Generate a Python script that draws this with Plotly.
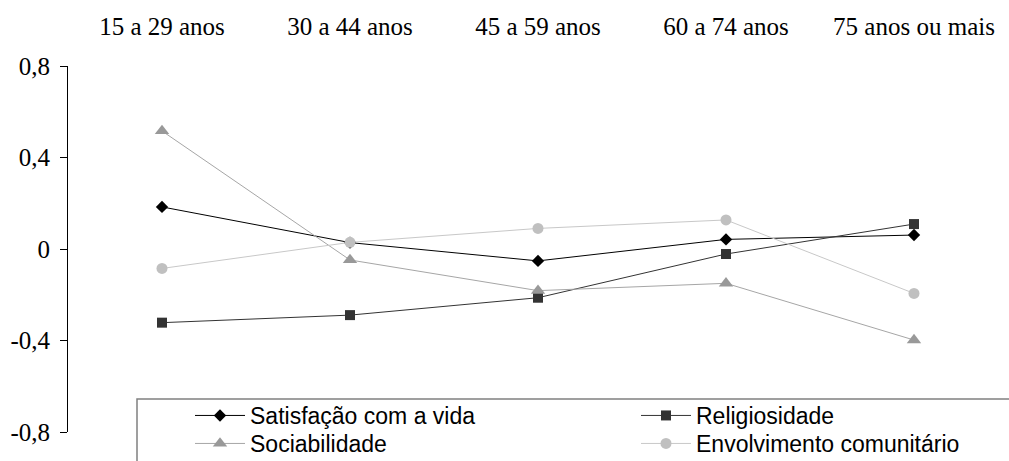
import plotly.graph_objects as go

categories = ["15 a 29 anos", "30 a 44 anos", "45 a 59 anos", "60 a 74 anos", "75 anos ou mais"]

satisfacao = [0.184, 0.028, -0.052, 0.042, 0.061]
religiosidade = [-0.322, -0.289, -0.213, -0.022, 0.109]
sociabilidade = [0.516, -0.048, -0.182, -0.150, -0.398]
envolvimento = [-0.085, 0.029, 0.090, 0.127, -0.194]

y_ticks = [-0.8, -0.4, 0, 0.4, 0.8]
y_ticktext = ["-0,8", "-0,4", "0", "0,4", "0,8"]
boundaries = [0.5, 1.5, 2.5, 3.5, 4.5]

serif = "Liberation Serif, Times New Roman, serif"
sans = "Liberation Sans, Arial, sans-serif"

fig = go.Figure()

series = [
    ("Satisfação com a vida", satisfacao, "#000000", "#000000", "diamond", 9.5, "legend"),
    ("Religiosidade", religiosidade, "#333333", "#333333", "square", 10, "legend2"),
    ("Sociabilidade", sociabilidade, "#a6a6a6", "#999999", "triangle-up", 12.5, "legend3"),
    ("Envolvimento comunitário", envolvimento, "#c8c8c8", "#c0c0c0", "circle", 11, "legend4"),
]
for name, vals, lc, mc, sym, sz, lg in series:
    fig.add_trace(go.Scatter(
        x=categories, y=vals, name=name, mode="lines+markers",
        line=dict(color=lc, width=1),
        marker=dict(symbol=sym, size=sz, color=mc, line=dict(width=0)),
        legend=lg,
    ))

L, R, T, B = 68, 1, 66, 29
W, H = 1009, 461
pw = W - L - R
ph = H - T - B

def px_x(p):
    return (p - L) / pw

def px_y(p):
    return (H - B - p) / ph

fig.add_shape(type="rect", xref="paper", yref="paper",
              x0=px_x(137), x1=px_x(1015), y0=px_y(470), y1=px_y(399),
              line=dict(color="#808080", width=1.5), fillcolor="white", layer="below")

def leg(xpx, ypx):
    return dict(x=px_x(xpx), y=px_y(ypx), xanchor="left", yanchor="top",
                bgcolor="rgba(0,0,0,0)", borderwidth=0, itemwidth=50,
                font=dict(family=sans, size=23, color="black"), tracegroupgap=0)

fig.update_layout(
    width=W, height=H,
    margin=dict(l=L, r=R, t=T, b=B, autoexpand=False),
    paper_bgcolor="white", plot_bgcolor="white",
    xaxis=dict(type="category", categoryorder="array", categoryarray=categories,
               range=[-0.5, 4.5], side="top", showline=False, showgrid=False,
               zeroline=False, ticks="", ticklabelstandoff=25, automargin=False,
               tickfont=dict(family=serif, size=25, color="black")),
    xaxis2=dict(overlaying="x", anchor="free", position=0.5, range=[-0.5, 4.5],
                tickmode="array", tickvals=boundaries, showticklabels=False,
                ticks="outside", ticklen=7, tickcolor="black", tickwidth=1,
                showline=True, linecolor="black", linewidth=1, automargin=False,
                showgrid=False, zeroline=False),
    yaxis=dict(range=[-0.8, 0.8], tickmode="array", tickvals=y_ticks, ticktext=y_ticktext,
               showline=True, linecolor="black", linewidth=1, ticks="outside",
               ticklen=7, tickcolor="black", showgrid=False, zeroline=False,
               ticklabelstandoff=5, automargin=False,
               tickfont=dict(family=serif, size=25, color="black")),
    legend=leg(190, 394),
    legend2=leg(636, 394),
    legend3=leg(190, 422),
    legend4=leg(636, 422),
    showlegend=True,
)

fig.write_html(
    "out.html",
    config={"displayModeBar": False},
    post_script="document.documentElement.style.margin='0';document.body.style.margin='0';"
                "document.body.style.overflow='hidden';document.documentElement.style.overflow='hidden';",
)
